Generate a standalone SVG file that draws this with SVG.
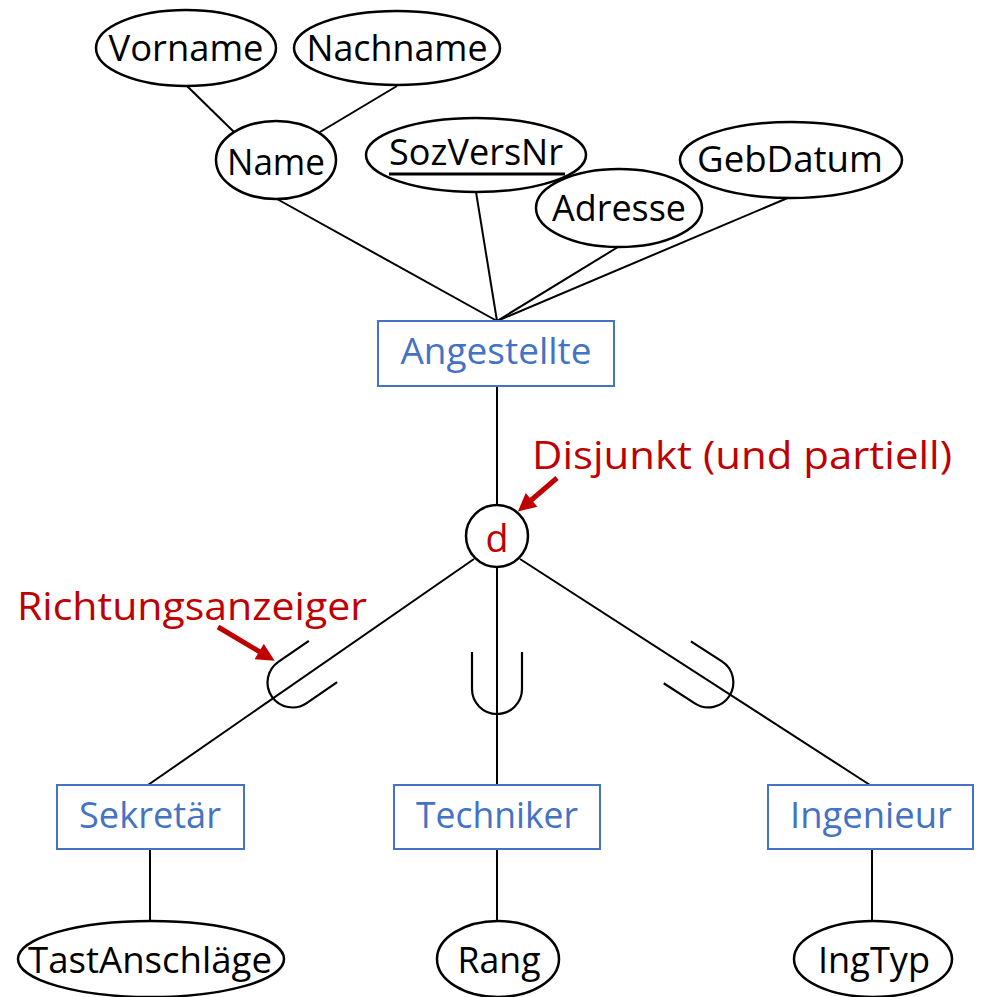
<svg xmlns="http://www.w3.org/2000/svg" width="981" height="997" viewBox="0 0 981 997">
<style>
text{font-family:"Open Sans","Noto Sans","Liberation Sans",sans-serif;font-size:36px;text-anchor:middle}
.attr ellipse{fill:#fff;stroke:#000;stroke-width:2.5}
.attr text{fill:#000}
.ent rect{fill:#fff;stroke:#4472C4;stroke-width:2}
.ent text{fill:#4472C4}
.conn line{stroke:#000;stroke-width:2;fill:none}
.conn use{stroke:#000;stroke-width:2.2;fill:none}
.red{fill:#C00000;font-size:38px}
.redline{stroke:#C00000;stroke-width:5;fill:none}
</style>
<defs>
<marker id="ah" viewBox="0 0 10 10" refX="7" refY="5" markerWidth="4" markerHeight="3.6" orient="auto" markerUnits="strokeWidth">
<path d="M0,0 L10,5 L0,10 z" fill="#C00000"/>
</marker>
<path id="u" d="M-25 0 V37 A25 25 0 0 0 25 37 V0"/>
</defs>
<rect width="981" height="997" fill="#fff"/>
<g class="conn" id="connectors">
<line x1="187" y1="86" x2="234" y2="132"/>
<line x1="397" y1="86" x2="320" y2="132"/>
<line x1="277" y1="199" x2="497" y2="321"/>
<line x1="476" y1="192" x2="497" y2="321"/>
<line x1="618" y1="247" x2="497" y2="321"/>
<line x1="790" y1="197" x2="497" y2="321"/>
<line x1="497" y1="387" x2="497" y2="505"/>
<line x1="474" y1="559" x2="148" y2="785"/>
<line x1="497" y1="568" x2="497" y2="785"/>
<line x1="520" y1="559" x2="870" y2="785"/>
<line x1="150" y1="850" x2="150" y2="920"/>
<line x1="497" y1="850" x2="497" y2="920"/>
<line x1="872" y1="850" x2="872" y2="920"/>
<use href="#u" transform="translate(323,661.5) rotate(55.5)"/>
<use href="#u" transform="translate(497,652)"/>
<use href="#u" transform="translate(677.3,662.3) rotate(-57.1)"/>
</g>
<g class="attr" id="vorname"><ellipse cx="186" cy="48" rx="90" ry="38"/><text x="186" y="61" textLength="155" lengthAdjust="spacingAndGlyphs">Vorname</text></g>
<g class="attr" id="nachname"><ellipse cx="397" cy="48" rx="103" ry="37"/><text x="397" y="61" textLength="181" lengthAdjust="spacingAndGlyphs">Nachname</text></g>
<g class="attr" id="name"><ellipse cx="276" cy="160" rx="60" ry="39"/><text x="276" y="175" textLength="98" lengthAdjust="spacingAndGlyphs">Name</text></g>
<g class="attr" id="sozversnr"><ellipse cx="476" cy="155" rx="110" ry="37"/><text x="476" y="165" textLength="174" lengthAdjust="spacingAndGlyphs">SozVersNr</text><line x1="389" y1="174" x2="565" y2="174" stroke="#000" stroke-width="3"/></g>
<g class="attr" id="adresse"><ellipse cx="619" cy="208" rx="83" ry="39"/><text x="619" y="221" textLength="134" lengthAdjust="spacingAndGlyphs">Adresse</text></g>
<g class="attr" id="gebdatum"><ellipse cx="791" cy="160" rx="111" ry="38"/><text x="790" y="172" textLength="186" lengthAdjust="spacingAndGlyphs">GebDatum</text></g>
<g class="ent" id="angestellte"><rect x="378" y="321" width="236" height="65"/><text x="496" y="364" textLength="191" lengthAdjust="spacingAndGlyphs">Angestellte</text></g>
<g id="disjoint"><circle cx="497" cy="536" r="31" fill="#fff" stroke="#000" stroke-width="2.5"/><text x="497" y="552" class="red" textLength="23" lengthAdjust="spacingAndGlyphs">d</text></g>
<g id="note-disjunkt"><text x="742" y="469" class="red" textLength="420" lengthAdjust="spacingAndGlyphs">Disjunkt (und partiell)</text><line x1="557" y1="478" x2="522" y2="508" class="redline" marker-end="url(#ah)"/></g>
<g id="note-richtung"><text x="192" y="620" class="red" textLength="350" lengthAdjust="spacingAndGlyphs">Richtungsanzeiger</text><line x1="218" y1="627" x2="270" y2="658" class="redline" marker-end="url(#ah)"/></g>
<g class="ent" id="sekretaer"><rect x="57" y="785" width="187" height="64"/><text x="150" y="828" textLength="142" lengthAdjust="spacingAndGlyphs">Sekretär</text></g>
<g class="ent" id="techniker"><rect x="394" y="785" width="206" height="64"/><text x="497" y="828" textLength="162" lengthAdjust="spacingAndGlyphs">Techniker</text></g>
<g class="ent" id="ingenieur"><rect x="768" y="785" width="205" height="64"/><text x="871" y="828" textLength="162" lengthAdjust="spacingAndGlyphs">Ingenieur</text></g>
<g class="attr" id="tastanschlaege"><ellipse cx="151" cy="959" rx="133" ry="38"/><text x="150" y="973" textLength="244" lengthAdjust="spacingAndGlyphs">TastAnschläge</text></g>
<g class="attr" id="rang"><ellipse cx="498" cy="959" rx="61" ry="38"/><text x="499" y="973" textLength="83" lengthAdjust="spacingAndGlyphs">Rang</text></g>
<g class="attr" id="ingtyp"><ellipse cx="873" cy="959" rx="79" ry="38"/><text x="874" y="973" textLength="112" lengthAdjust="spacingAndGlyphs">IngTyp</text></g>
</svg>
